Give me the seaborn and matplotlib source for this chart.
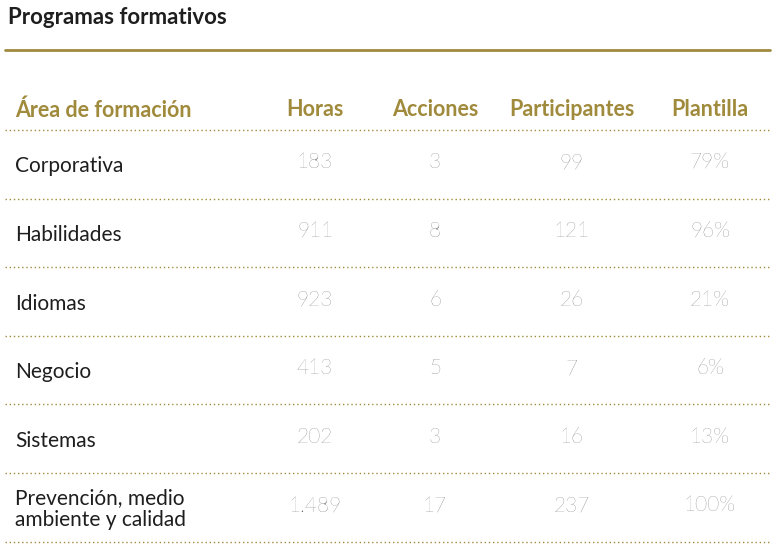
import matplotlib
matplotlib.use("Agg")
import matplotlib.pyplot as plt
import seaborn as sns

areas = ["Corporativa", "Habilidades", "Idiomas", "Negocio", "Sistemas",
         "Prevención, medio\nambiente y calidad"]
horas = ["183", "911", "923", "413", "202", "1.489"]
acciones = ["3", "8", "6", "5", "3", "17"]
participantes = ["99", "121", "26", "7", "16", "237"]
plantilla = ["79%", "96%", "21%", "6%", "13%", "100%"]
headers = ["Área de formación", "Horas", "Acciones", "Participantes", "Plantilla"]
title = "Programas formativos"

sns.set_theme(style="white", font="Lato")
gold = "#a08a3c"
dark = "#1e1e1e"

fig = plt.figure(figsize=(7.78, 5.49), dpi=100)
ax = fig.add_axes([0, 0, 1, 1])
ax.set_xlim(0, 778)
ax.set_ylim(549, 0)
ax.axis("off")

ax.text(8, 18, title, fontsize=16, fontweight="bold", color=dark, va="center", ha="left")
ax.plot([5, 770], [50, 50], color=gold, lw=2)

col_x = [15, 315, 435, 572, 710]
ax.text(col_x[0], 110, headers[0], fontsize=15.5, fontweight="bold", color=gold, va="center", ha="left")
for x, h in zip(col_x[1:], headers[1:]):
    ax.text(x, 110, h, fontsize=15.5, fontweight="bold", color=gold, va="center", ha="center")

row_top = 130
row_h = 68.6
ax.plot([5, 770], [row_top, row_top], color=gold, lw=1, ls=(0, (1, 2)))
for i, vals in enumerate(zip(areas, horas, acciones, participantes, plantilla)):
    yc = row_top + row_h * (i + 0.5)
    ax.text(col_x[0], yc + 2, vals[0], fontsize=15, color=dark, va="center", ha="left",
            linespacing=1.1)
    for x, v in zip(col_x[1:], vals[1:]):
        ax.text(x, yc - 2, v, fontsize=15, fontweight="light", color="#555555",
                va="center", ha="center")
    yb = row_top + row_h * (i + 1)
    ax.plot([5, 770], [yb, yb], color=gold, lw=1, ls=(0, (1, 2)))

fig.savefig("out.png", dpi=100, facecolor="white")
